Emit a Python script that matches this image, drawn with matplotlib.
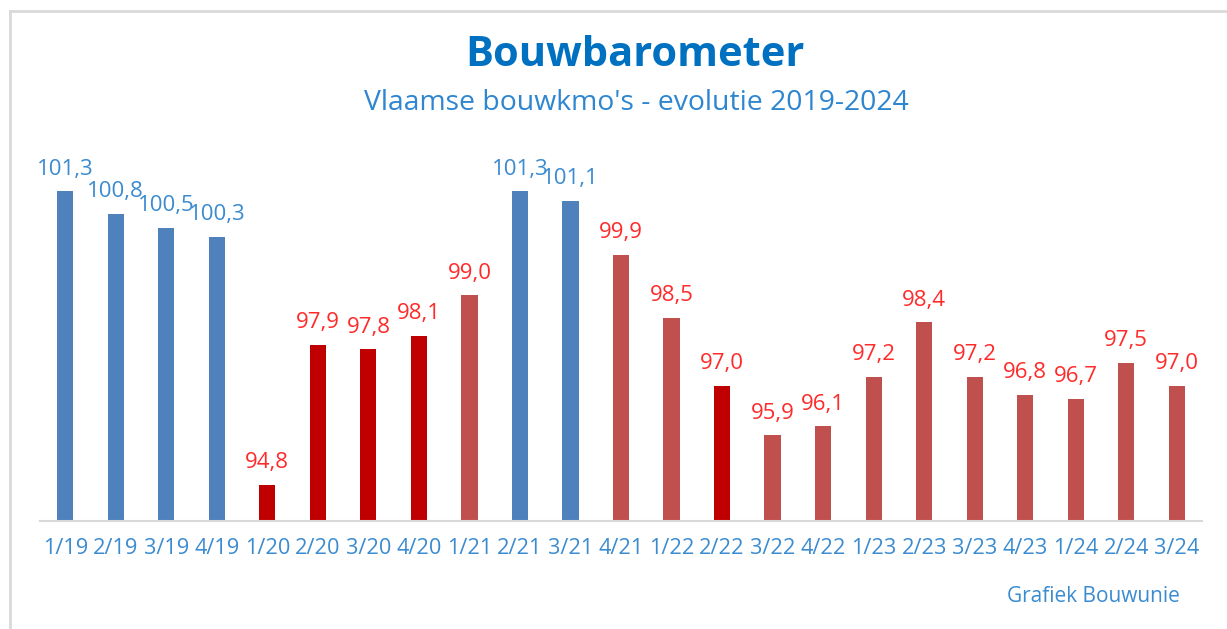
import numpy as np
import matplotlib
matplotlib.use("Agg")
import matplotlib.pyplot as plt
from matplotlib.lines import Line2D

plt.rcParams['font.family'] = ['Open Sans', 'DejaVu Sans']

kwartalen = ['1/19', '2/19', '3/19', '4/19', '1/20', '2/20', '3/20', '4/20',
             '1/21', '2/21', '3/21', '4/21', '1/22', '2/22', '3/22', '4/22',
             '1/23', '2/23', '3/23', '4/23', '1/24', '2/24', '3/24']
waarden = [101.3, 100.8, 100.5, 100.3, 94.8, 97.9, 97.8, 98.1,
           99.0, 101.3, 101.1, 99.9, 98.5, 97.0, 95.9, 96.1,
           97.2, 98.4, 97.2, 96.8, 96.7, 97.5, 97.0]
# 0 = boven 100, 1 = crisiskwartaal, 2 = onder 100
groep = [0, 0, 0, 0, 1, 1, 1, 1,
         2, 0, 0, 2, 2, 1, 2, 2,
         2, 2, 2, 2, 2, 2, 2]

balk_kleur = {0: '#4F81BD', 1: '#C00000', 2: '#C0504D'}
tekst_kleur = {0: '#3A8BD0', 1: '#FF2A2A', 2: '#FF2A2A'}

W, H = 1227, 629
fig = plt.figure(figsize=(W / 100, H / 100), dpi=100)
ax = fig.add_axes([40 / W, (H - 521) / H, (1202 - 40) / W, (521 - 160) / H])

x = np.arange(len(waarden))
ymin = 94.0
ax.bar(x, np.array(waarden) - ymin, bottom=ymin, width=0.32,
       color=[balk_kleur[g] for g in groep], zorder=2)

for xi, v, g in zip(x, waarden, groep):
    ax.annotate(f"{v:.1f}".replace('.', ','), (xi, v), xytext=(0, 12),
                textcoords='offset points', ha='center', va='baseline',
                fontsize=16, color=tekst_kleur[g])

ax.set_xlim(-0.5, len(waarden) - 0.5)
ax.set_ylim(ymin, ymin + (521 - 160) / 45.14)
ax.set_xticks(x)
ax.set_xticklabels(kwartalen, fontsize=15.7, color='#3A8BD0')
ax.tick_params(axis='x', length=0, pad=12)
ax.set_yticks([])
for s in ['top', 'right', 'left']:
    ax.spines[s].set_visible(False)
ax.spines['bottom'].set_color('#D9D9D9')
ax.spines['bottom'].set_linewidth(1.5)

fig.text(635 / W, 1 - 55 / H, 'Bouwbarometer', ha='center', va='center',
         fontsize=30, fontweight='bold', color='#0070C0')
fig.text(636 / W, 1 - 103 / H, "Vlaamse bouwkmo's - evolutie 2019-2024",
         ha='center', va='center', fontsize=20.4, color='#2E86D0')
fig.text(1093 / W, 1 - 597 / H, 'Grafiek Bouwunie', ha='center', va='center',
         fontsize=15, color='#3A8BD0')

# kader links en boven
fig.add_artist(Line2D([10 / W, 10 / W], [0, 1 - 11 / H], color='#D9D9D9', lw=2,
                      transform=fig.transFigure))
fig.add_artist(Line2D([10 / W, 1], [1 - 11 / H, 1 - 11 / H], color='#D9D9D9', lw=2,
                      transform=fig.transFigure))

fig.savefig('out.png', dpi=100)
